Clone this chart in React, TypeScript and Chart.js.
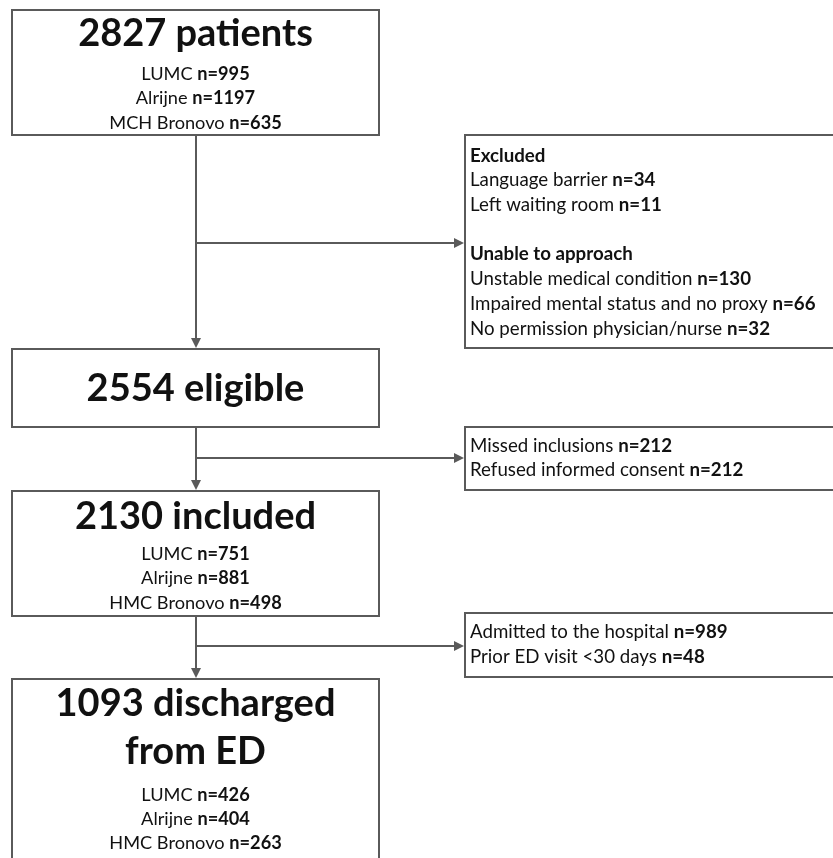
import React, { useEffect, useRef } from "react";
import { Chart, registerables } from "chart.js";

Chart.register(...registerables);

// ---- data ----
const mainTitles: string[][] = [
  ["2827 patients"],
  ["2554 eligible"],
  ["2130 included"],
  ["1093 discharged", "from ED"],
];
const patientsSites = ["LUMC", "Alrijne", "MCH Bronovo"];
const patientsCounts = [995, 1197, 635];
const eligibleSites: string[] = [];
const eligibleCounts: number[] = [];
const includedSites = ["LUMC", "Alrijne", "HMC Bronovo"];
const includedCounts = [751, 881, 498];
const dischargedSites = ["LUMC", "Alrijne", "HMC Bronovo"];
const dischargedCounts = [426, 404, 263];

const excludedHeader = "Excluded";
const excludedReasons = ["Language barrier", "Left waiting room"];
const excludedCounts = [34, 11];
const unableHeader = "Unable to approach";
const unableReasons = [
  "Unstable medical condition",
  "Impaired mental status and no proxy",
  "No permission physician/nurse",
];
const unableCounts = [130, 66, 32];
const missedReasons = ["Missed inclusions", "Refused informed consent"];
const missedCounts = [212, 212];
const admittedReasons = ["Admitted to the hospital", "Prior ED visit <30 days"];
const admittedCounts = [989, 48];

// ---- layout (in scale units) ----
const W = 833;
const H = 858;
const mainLeft = 12;
const mainRight = 379;
const stemX = 196;
const mainTops = [10, 349, 491, 679];
const mainBottoms = [135, 427, 616, 870];
const titleBaselines = [[46], [401], [529], [716, 764]];
const siteBaselines = [[80, 104, 129], [], [560, 584, 609], [801, 825, 849]];
const sideLeft = 465;
const sideRight = 845;
const sideTops = [135, 427, 613];
const sideBottoms = [348, 490, 677];
const branchYs = [243, 458, 646];

const FONT = "Lato, 'Open Sans', sans-serif";
const LINE = "#5a5a5a";
const TEXT = "#111111";

type Seg = { t: string; bold: boolean };

function drawSegs(ctx: CanvasRenderingContext2D, segs: Seg[], x: number, y: number, size: number, align: "left" | "center") {
  const fonts = segs.map((s) => `${s.bold ? "bold " : ""}${size}px ${FONT}`);
  const widths = segs.map((s, i) => {
    ctx.font = fonts[i];
    return ctx.measureText(s.t).width;
  });
  const total = widths.reduce((a, b) => a + b, 0);
  let cx = align === "center" ? x - total / 2 : x;
  ctx.textAlign = "left";
  ctx.textBaseline = "alphabetic";
  ctx.fillStyle = TEXT;
  segs.forEach((s, i) => {
    ctx.font = fonts[i];
    ctx.fillText(s.t, cx, y);
    cx += widths[i];
  });
}

const flowPlugin = {
  id: "flow",
  afterDraw(chart: any) {
    const ctx: CanvasRenderingContext2D = chart.ctx;
    const xs = chart.scales.x;
    const ys = chart.scales.y;
    const px = (v: number) => xs.getPixelForValue(v);
    const py = (v: number) => ys.getPixelForValue(v);

    ctx.save();
    ctx.fillStyle = "#ffffff";
    ctx.fillRect(0, 0, chart.width, chart.height);

    ctx.strokeStyle = LINE;
    ctx.lineWidth = 2;

    const rect = (l: number, t: number, r: number, b: number) => {
      ctx.beginPath();
      ctx.rect(px(l), py(t), px(r) - px(l), py(b) - py(t));
      ctx.stroke();
    };
    const line = (x1: number, y1: number, x2: number, y2: number) => {
      ctx.beginPath();
      ctx.moveTo(px(x1), py(y1));
      ctx.lineTo(px(x2), py(y2));
      ctx.stroke();
    };
    const arrowDown = (x: number, y: number) => {
      ctx.fillStyle = LINE;
      ctx.beginPath();
      ctx.moveTo(px(x), py(y));
      ctx.lineTo(px(x) - 5, py(y) - 10);
      ctx.lineTo(px(x) + 5, py(y) - 10);
      ctx.closePath();
      ctx.fill();
    };
    const arrowRight = (x: number, y: number) => {
      ctx.fillStyle = LINE;
      ctx.beginPath();
      ctx.moveTo(px(x), py(y));
      ctx.lineTo(px(x) - 10, py(y) - 5);
      ctx.lineTo(px(x) - 10, py(y) + 5);
      ctx.closePath();
      ctx.fill();
    };

    // boxes
    mainTops.forEach((t, i) => rect(mainLeft, t, mainRight, mainBottoms[i]));
    sideTops.forEach((t, i) => rect(sideLeft, t, sideRight, sideBottoms[i]));

    // connectors
    for (let i = 0; i < 3; i++) {
      line(stemX, mainBottoms[i], stemX, mainTops[i + 1] - 3);
      arrowDown(stemX, mainTops[i + 1] - 1);
      line(stemX, branchYs[i], sideLeft - 4, branchYs[i]);
      arrowRight(sideLeft - 1, branchYs[i]);
    }

    // main texts
    const siteSets = [
      [patientsSites, patientsCounts],
      [eligibleSites, eligibleCounts],
      [includedSites, includedCounts],
      [dischargedSites, dischargedCounts],
    ] as [string[], number[]][];
    const cx = (mainLeft + mainRight) / 2;
    mainTitles.forEach((lines, i) => {
      lines.forEach((t, j) => {
        drawSegs(ctx, [{ t, bold: true }], px(cx), py(titleBaselines[i][j]), 38, "center");
      });
      const [sites, counts] = siteSets[i];
      sites.forEach((s, j) => {
        drawSegs(
          ctx,
          [{ t: s + " ", bold: false }, { t: "n=" + counts[j], bold: true }],
          px(cx),
          py(siteBaselines[i][j]),
          18.2,
          "center"
        );
      });
    });

    // side texts
    const tx = sideLeft + 5;
    const sz = 18.7;
    drawSegs(ctx, [{ t: excludedHeader, bold: true }], px(tx), py(162), sz, "left");
    excludedReasons.forEach((r, j) =>
      drawSegs(ctx, [{ t: r + " ", bold: false }, { t: "n=" + excludedCounts[j], bold: true }], px(tx), py(186 + j * 25), sz, "left")
    );
    drawSegs(ctx, [{ t: unableHeader, bold: true }], px(tx), py(260), sz, "left");
    unableReasons.forEach((r, j) =>
      drawSegs(ctx, [{ t: r + " ", bold: false }, { t: "n=" + unableCounts[j], bold: true }], px(tx), py(285 + j * 25), sz, "left")
    );
    missedReasons.forEach((r, j) =>
      drawSegs(ctx, [{ t: r + " ", bold: false }, { t: "n=" + missedCounts[j], bold: true }], px(tx), py(452 + j * 23.5), sz, "left")
    );
    admittedReasons.forEach((r, j) =>
      drawSegs(ctx, [{ t: r + " ", bold: false }, { t: "n=" + admittedCounts[j], bold: true }], px(tx), py(638 + j * 25), sz, "left")
    );

    ctx.restore();
  },
};

export default function App() {
  const ref = useRef<HTMLCanvasElement | null>(null);
  useEffect(() => {
    if (!ref.current) return;
    const chart = new Chart(ref.current, {
      type: "scatter",
      data: { datasets: [] },
      options: {
        animation: false,
        responsive: false,
        maintainAspectRatio: false,
        layout: { padding: 0 },
        plugins: { legend: { display: false }, tooltip: { enabled: false } },
        scales: {
          x: { type: "linear", min: 0, max: W, display: false },
          y: { type: "linear", min: 0, max: H, reverse: true, display: false },
        },
      },
      plugins: [flowPlugin],
    });
    return () => chart.destroy();
  }, []);
  return (
    <div style={{ position: "fixed", left: 0, top: 0, width: W, height: H, background: "#fff" }}>
      <canvas ref={ref} width={W} height={H} style={{ display: "block" }} />
    </div>
  );
}
